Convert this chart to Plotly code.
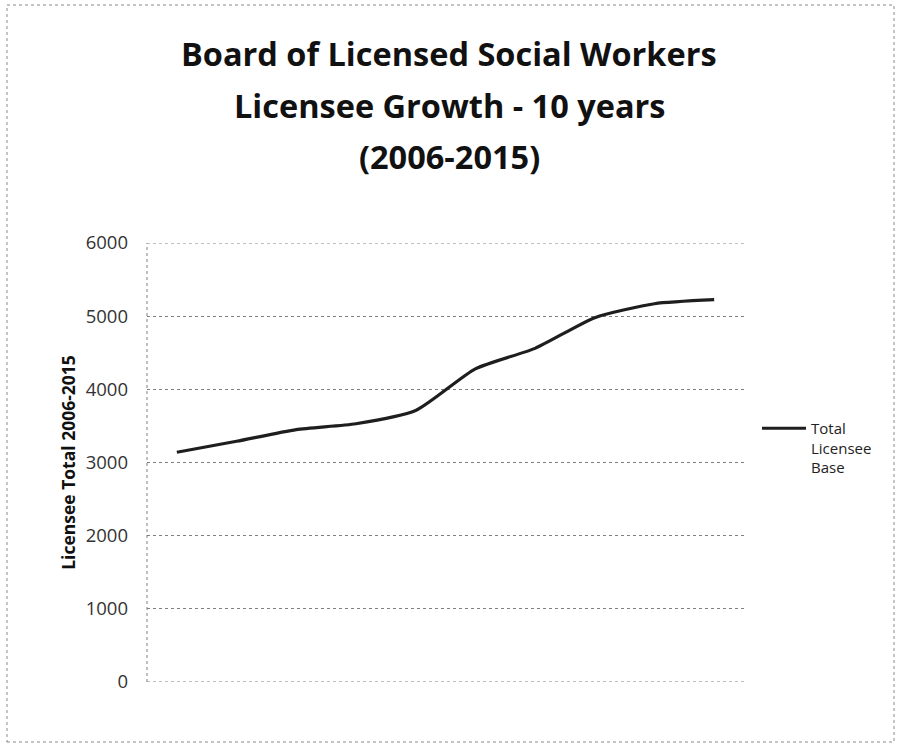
import plotly.graph_objects as go

years = [2006, 2007, 2008, 2009, 2010, 2011, 2012, 2013, 2014, 2015]
licensees = [3140, 3290, 3450, 3530, 3710, 4280, 4560, 4980, 5170, 5225]
y_ticks = [0, 1000, 2000, 3000, 4000, 5000, 6000]
title_lines = ["Board of Licensed Social Workers", "Licensee Growth - 10 years", "(2006-2015)"]

FONT = "'Open Sans', Lato, sans-serif"
GRID = "#808080"

fig = go.Figure()
fig.add_trace(go.Scatter(
    x=[str(y) for y in years], y=licensees, mode="lines",
    name="Total<br>Licensee<br>Base",
    line=dict(color="#1e1e1e", width=3.2, shape="spline", smoothing=0.6),
))

W, H = 897, 744
L, R, T, B = 147, 153, 243, 62
pw = W - L - R
ph = H - T - B

for txt, ypix in zip(title_lines, [53, 105, 156]):
    fig.add_annotation(
        text=f"<b>{txt}</b>", xref="paper", yref="paper",
        x=(449 - L) / pw, y=(H - B - ypix) / ph,
        xanchor="center", yanchor="middle", showarrow=False,
        font=dict(size=32.5, color="#111111", family=FONT),
    )

# outer dotted frame
fig.add_shape(type="rect", xref="paper", yref="paper",
              x0=(7 - L) / pw, x1=(894 - L) / pw,
              y0=(H - B - 742) / ph, y1=(H - B - 5) / ph,
              line=dict(color="#8a8a8a", width=1, dash="dot"))

# edge lines of plot area (dotted like the grid)
for yv in (y_ticks[0], y_ticks[-1]):
    fig.add_shape(type="line", xref="paper", yref="y", x0=0, x1=1, y0=yv, y1=yv,
                  line=dict(color=GRID, width=1, dash="dot"))
fig.add_shape(type="line", xref="paper", yref="paper", x0=0, x1=0, y0=0, y1=1,
              line=dict(color=GRID, width=1, dash="dot"))

fig.update_layout(
    width=W, height=H,
    margin=dict(l=L, r=R, t=T, b=B),
    paper_bgcolor="white", plot_bgcolor="white",
    font=dict(family=FONT, color="#333333"),
    showlegend=True,
    legend=dict(x=(757 - L) / pw, y=(H - B - 412) / ph, xanchor="left", yanchor="top",
                font=dict(size=15, color="#222222", family=FONT),
                bgcolor="rgba(0,0,0,0)", valign="top", itemwidth=44,
                borderwidth=0),
)
fig.update_xaxes(type="category", range=[-0.5, len(years) - 0.5],
                 showticklabels=False, showgrid=False, zeroline=False,
                 showline=False, ticks="")
fig.update_yaxes(range=[0, 6000], tickvals=y_ticks,
                 tickfont=dict(size=18.5, color="#333333", family=FONT),
                 showgrid=True, gridcolor=GRID, griddash="dot", gridwidth=1,
                 zeroline=False, showline=False,
                 ticks="", ticklabelstandoff=18,
                 title=dict(text="<b>Licensee Total 2006-2015</b>", standoff=5,
                            font=dict(size=17.5, color="#111111", family=FONT)))
fig.write_html("out.html")
